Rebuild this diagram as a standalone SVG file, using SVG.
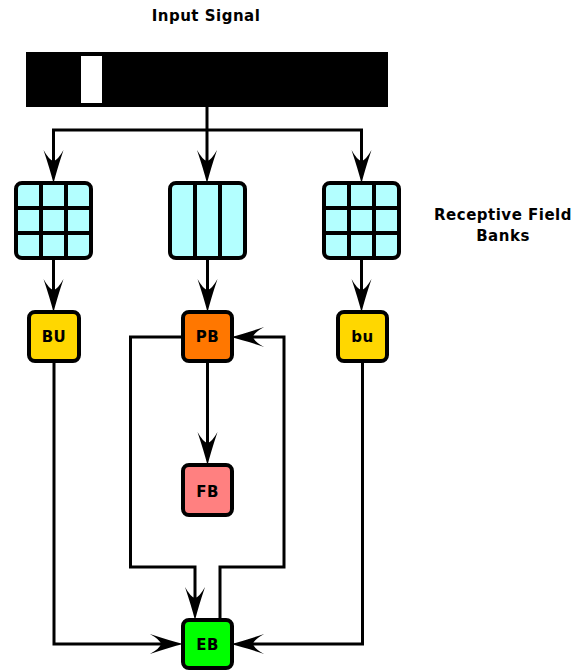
<svg xmlns="http://www.w3.org/2000/svg" width="573" height="670" viewBox="0 0 573 670">
<style>
text{font-family:"DejaVu Sans","Liberation Sans",sans-serif;font-weight:bold;font-size:15px;letter-spacing:0.5px;fill:#000;text-anchor:middle}
.box{stroke:#000;stroke-width:4}
.grid{fill:#b3ffff;stroke:#000;stroke-width:4}
.gl{stroke:#000;stroke-width:4;fill:none}
.con{fill:none;stroke:#000;stroke-width:3;marker-end:url(#arr)}
.ln{fill:none;stroke:#000;stroke-width:3}
</style>
<defs>
<marker id="arr" markerUnits="userSpaceOnUse" orient="auto" refX="0" refY="0" markerWidth="40" markerHeight="30" viewBox="-12 -12 36 24" overflow="visible">
<path d="M20,0 Q8,-3 -10,-9 Q-1,-4 0,0 Q-1,4 -10,9 Q8,3 20,0 Z" fill="#000"/>
</marker>
</defs>
<text x="206" y="20.5">Input Signal</text>
<g id="signal">
<rect x="26" y="52" width="362" height="55" fill="#000"/>
<rect x="81" y="56" width="21" height="47" fill="#fff"/>
</g>
<g id="rf-label">
<text x="503" y="220">Receptive Field</text>
<text x="503" y="241">Banks</text>
</g>
<g id="connectors">
<path class="ln" d="M207,106 V130"/>
<path class="con" d="M207,130 H53.5 V161"/>
<path class="con" d="M207,130 V161"/>
<path class="con" d="M207,130 H361.5 V161"/>
<path class="con" d="M53.5,258 V290"/>
<path class="con" d="M207.5,258 V290"/>
<path class="con" d="M361.5,258 V290"/>
<path class="con" d="M207.5,361 V443"/>
<path class="con" d="M183,337 H130.5 V567 H195 V598"/>
<path class="con" d="M220,620 V567 H284 V337 H253"/>
<path class="con" d="M54,361 V644 H161"/>
<path class="con" d="M362.5,361 V644 H253"/>
</g>
<g id="rf1">
<rect class="grid" x="16" y="183" width="75" height="75" rx="6"/>
<path class="gl" d="M41,183 V258 M66,183 V258 M16,208 H91 M16,233 H91"/>
</g>
<g id="rf2">
<rect class="grid" x="170" y="183" width="75" height="75" rx="6"/>
<path class="gl" d="M195,183 V258 M220,183 V258"/>
</g>
<g id="rf3">
<rect class="grid" x="324" y="183" width="75" height="75" rx="6"/>
<path class="gl" d="M349,183 V258 M374,183 V258 M324,208 H399 M324,233 H399"/>
</g>
<g id="BU">
<rect class="box" x="29" y="312" width="50" height="49" rx="6" fill="#ffd700"/>
<text x="54" y="342">BU</text>
</g>
<g id="PB">
<rect class="box" x="183" y="312" width="49" height="49" rx="6" fill="#ff7700"/>
<text x="207.5" y="342">PB</text>
</g>
<g id="bu">
<rect class="box" x="338" y="312" width="49" height="49" rx="6" fill="#ffd700"/>
<text x="362.5" y="342">bu</text>
</g>
<g id="FB">
<rect class="box" x="183" y="465" width="49" height="50" rx="6" fill="#ff8080"/>
<text x="207.5" y="496.5">FB</text>
</g>
<g id="EB">
<rect class="box" x="183" y="620" width="49" height="48" rx="6" fill="#00ff00"/>
<text x="207.5" y="650">EB</text>
</g>
</svg>
